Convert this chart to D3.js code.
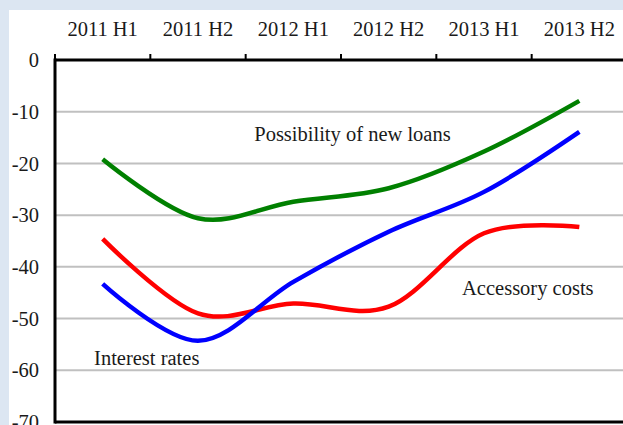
<!DOCTYPE html>
<html>
<head>
<meta charset="utf-8">
<script src="https://cdn.jsdelivr.net/npm/d3@7/dist/d3.min.js"></script>
<style>
  html, body { margin: 0; padding: 0; background: #dce6f2; }
  svg { display: block; }
</style>
</head>
<body>
<svg id="chart" width="623" height="425"></svg>
<script>
// Half-year periods along the top axis
const periods = ["2011 H1", "2011 H2", "2012 H1", "2012 H2", "2013 H1", "2013 H2"];

// Net balances per factor
const newLoans       = [-19.2, -30.6, -27.4, -24.8, -17.7, -7.9];
const interestRates  = [-43.3, -54.3, -42.9, -33.2, -25.5, -13.9];
const accessoryCosts = [-34.6, -49.0, -47.1, -47.7, -33.5, -32.3];

// Value axis ticks
const yTicks = [0, -10, -20, -30, -40, -50, -60, -70];

const series = [
  { name: "Possibility of new loans", values: newLoans, color: "#008000" },
  { name: "Accessory costs", values: accessoryCosts, color: "#ff0000" },
  { name: "Interest rates", values: interestRates, color: "#0000ff" }
];

// In-plot series labels: position given as (category index, value)
const seriesLabels = [
  { text: "Possibility of new loans", at: 1.59, v: -15.7 },
  { text: "Accessory costs", at: 3.77, v: -45.4 },
  { text: "Interest rates", at: -0.09, v: -59.0 }
];

const W = 623, H = 425;
const plot = { left: 55, top: 60, right: 627, bottom: 422 };
const FONT = "'Liberation Serif', 'Times New Roman', Tinos, 'DejaVu Serif', serif";
const FS = 20.5;

const svg = d3.select("#chart")
  .attr("font-family", FONT)
  .style("font-family", FONT);

// panel backgrounds
svg.append("rect").attr("width", W).attr("height", H).attr("fill", "#dce6f2");
svg.append("rect").attr("x", 9).attr("y", 10).attr("width", W - 9).attr("height", H - 10).attr("fill", "#ffffff");

const x = d3.scaleBand().domain(periods).range([plot.left, plot.right]).paddingInner(0).paddingOuter(0);
const y = d3.scaleLinear().domain([-70, 0]).range([plot.bottom, plot.top]);
const xi = i => plot.left + x.bandwidth() * (i + 0.5);

// horizontal gridlines
svg.append("g")
  .selectAll("line")
  .data(yTicks.filter(d => d !== 0 && d !== -70))
  .join("line")
  .attr("x1", plot.left).attr("x2", W)
  .attr("y1", d => y(d)).attr("y2", d => y(d))
  .attr("stroke", "#c0c0c0").attr("stroke-width", 2);

// value labels on the left
svg.append("g")
  .selectAll("text")
  .data(yTicks)
  .join("text")
  .attr("x", 39)
  .attr("y", d => y(d))
  .attr("dy", "0.35em")
  .attr("text-anchor", "end")
  .attr("font-size", FS)
  .attr("fill", "#1a1a1a")
  .text(d => String(d));

// series lines
const line = d3.line()
  .x((d, i) => x(periods[i]) + x.bandwidth() / 2)
  .y(d => y(d))
  .curve(d3.curveCatmullRom.alpha(0));

svg.append("g")
  .selectAll("path")
  .data(series)
  .join("path")
  .attr("d", d => line(d.values))
  .attr("fill", "none")
  .attr("stroke", d => d.color)
  .attr("stroke-width", 4.5)
  .attr("stroke-linecap", "butt");

// frame: left and bottom
svg.append("line")
  .attr("x1", plot.left).attr("x2", plot.left)
  .attr("y1", plot.top - 1.5).attr("y2", plot.bottom + 1.5)
  .attr("stroke", "#000").attr("stroke-width", 3);
svg.append("line")
  .attr("x1", plot.left).attr("x2", W)
  .attr("y1", plot.bottom).attr("y2", plot.bottom)
  .attr("stroke", "#000").attr("stroke-width", 3);

// top category axis
const xAxis = svg.append("g").attr("transform", `translate(0,${plot.top})`);
xAxis.append("line")
  .attr("x1", plot.left).attr("x2", W)
  .attr("y1", 0).attr("y2", 0)
  .attr("stroke", "#000").attr("stroke-width", 3);
xAxis.selectAll("line.tick")
  .data(periods)
  .join("line")
  .attr("class", "tick")
  .attr("x1", d => x(d)).attr("x2", d => x(d))
  .attr("y1", 0).attr("y2", -6)
  .attr("stroke", "#000").attr("stroke-width", 2);
xAxis.selectAll("text")
  .data(periods)
  .join("text")
  .attr("x", d => x(d) + x.bandwidth() / 2)
  .attr("y", -24)
  .attr("text-anchor", "middle")
  .attr("font-size", FS)
  .attr("fill", "#1a1a1a")
  .text(d => d);

// series labels
svg.append("g")
  .selectAll("text")
  .data(seriesLabels)
  .join("text")
  .attr("x", d => xi(d.at))
  .attr("y", d => y(d.v))
  .attr("font-size", FS)
  .attr("fill", "#1a1a1a")
  .text(d => d.text);
</script>
</body>
</html>
